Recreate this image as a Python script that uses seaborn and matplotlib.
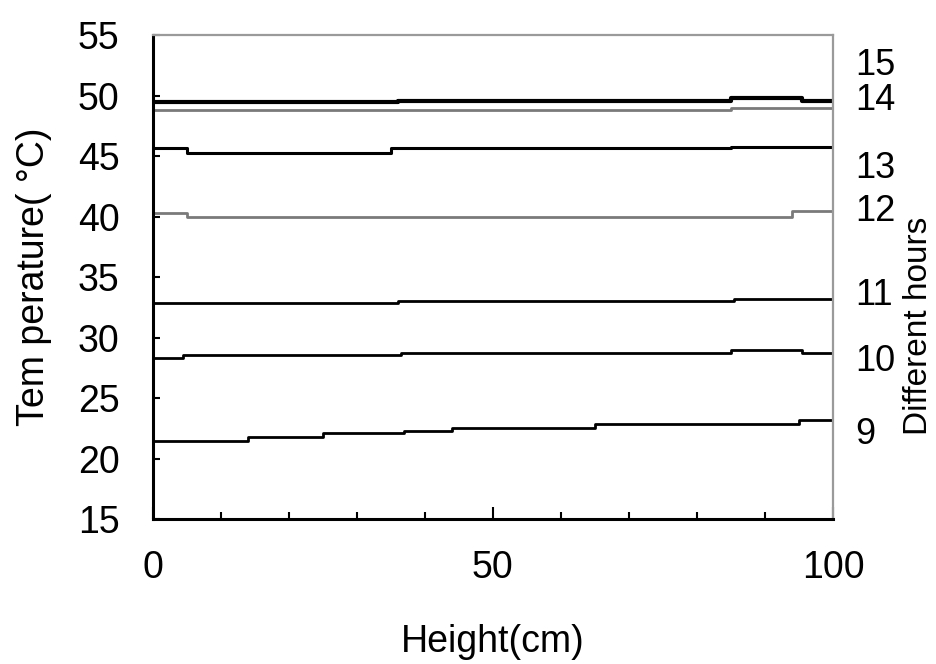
import matplotlib
matplotlib.use('Agg')
import matplotlib.pyplot as plt
from matplotlib.ticker import MultipleLocator
import seaborn as sns
import pandas as pd

# ------------------------------------------------------------
# Data (step profiles, temperature vs height)
# ------------------------------------------------------------
hours = [9, 10, 11, 12, 13, 14, 15]

x_9 = [0, 14, 25, 37, 44, 65, 95, 100]
t_9 = [21.5, 21.8, 22.1, 22.3, 22.5, 22.85, 23.2, 23.2]

x_10 = [0, 4.5, 36.5, 85, 95.5, 100]
t_10 = [28.35, 28.55, 28.7, 29.0, 28.7, 28.7]

x_11 = [0, 36, 85.5, 100]
t_11 = [32.9, 33.05, 33.2, 33.2]

x_12 = [0, 5, 94, 100]
t_12 = [40.3, 40.0, 40.5, 40.5]

x_13 = [0, 5, 35, 85, 100]
t_13 = [45.65, 45.3, 45.7, 45.8, 45.8]

x_14 = [0, 85, 100]
t_14 = [48.85, 49.0, 49.0]

x_15 = [0, 36, 85, 95.5, 100]
t_15 = [49.45, 49.55, 49.8, 49.55, 49.55]

# right-hand hour labels and where they sit on the temperature scale
hour_labels = ['9', '10', '11', '12', '13', '14', '15']
hour_label_pos = [22.3, 28.4, 33.8, 40.8, 44.3, 49.9, 52.8]

x_ticks = [0, 50, 100]
y_ticks = [15, 20, 25, 30, 35, 40, 45, 50, 55]

series = {9: (x_9, t_9), 10: (x_10, t_10), 11: (x_11, t_11), 12: (x_12, t_12),
          13: (x_13, t_13), 14: (x_14, t_14), 15: (x_15, t_15)}

frames = []
for h in hours:
    xs, ts = series[h]
    frames.append(pd.DataFrame({'height': xs, 'temp': ts, 'hour': h}))
df = pd.concat(frames, ignore_index=True)

# styling per hour
line_colors = {9: 'black', 10: 'black', 11: 'black', 12: '#7a7a7a',
               13: 'black', 14: '#7a7a7a', 15: 'black'}
line_widths = {9: 2.0, 10: 2.0, 11: 2.0, 12: 2.0, 13: 2.2, 14: 2.0, 15: 3.0}

# ------------------------------------------------------------
# Plot
# ------------------------------------------------------------
sns.set_style('ticks')
plt.rcParams['font.family'] = ['Liberation Sans', 'DejaVu Sans']
plt.rcParams['text.color'] = 'black'
plt.rcParams['axes.labelcolor'] = 'black'
plt.rcParams['xtick.color'] = 'black'
plt.rcParams['ytick.color'] = 'black'

fig = plt.figure(figsize=(9.37, 6.64), dpi=100)
ax = fig.add_axes([0.163, 0.218, 0.726, 0.729])

for h in hours:
    sub = df[df['hour'] == h]
    sns.lineplot(data=sub, x='height', y='temp', ax=ax, color=line_colors[h],
                 linewidth=line_widths[h], drawstyle='steps-post',
                 estimator=None, sort=False, legend=False)

ax.set_xlim(0, 100)
ax.set_ylim(15, 55)
ax.set_xticks(x_ticks)
ax.xaxis.set_minor_locator(MultipleLocator(10))
ax.set_yticks(y_ticks)

fs = 27
ax.tick_params(axis='x', which='major', direction='in', length=9, width=1.5,
               pad=22, labelsize=fs)
ax.tick_params(axis='x', which='minor', direction='in', length=5, width=1.5)
ax.tick_params(axis='y', which='major', direction='in', length=5, width=1.5,
               pad=24, labelsize=fs)
ax.tick_params(top=False, right=False)

for side in ['left', 'bottom']:
    ax.spines[side].set_color('black')
    ax.spines[side].set_linewidth(2.2)
for side in ['top', 'right']:
    ax.spines[side].set_visible(True)
    ax.spines[side].set_color('#9a9a9a')
    ax.spines[side].set_linewidth(1.6)

ax.set_xlabel('Height(cm)', fontsize=fs, va='center')
ax.xaxis.set_label_coords(0.5, -0.254)
ax.set_ylabel('Tem perature( °C)', fontsize=fs, va='center')
ax.yaxis.set_label_coords(-0.175, 0.5)

# right-hand axis carrying the hour labels
ax2 = ax.twinx()
ax2.set_ylim(15, 55)
ax2.set_yticks(hour_label_pos)
ax2.set_yticklabels(hour_labels)
ax2.tick_params(axis='y', length=0, pad=16, labelsize=26)
for side in ax2.spines:
    ax2.spines[side].set_visible(False)
ax2.set_ylabel('Different hours', fontsize=24, rotation=90, va='center')
ax2.yaxis.set_label_coords(1.125, 0.40)

fig.savefig('out.png', dpi=100, facecolor='white')
